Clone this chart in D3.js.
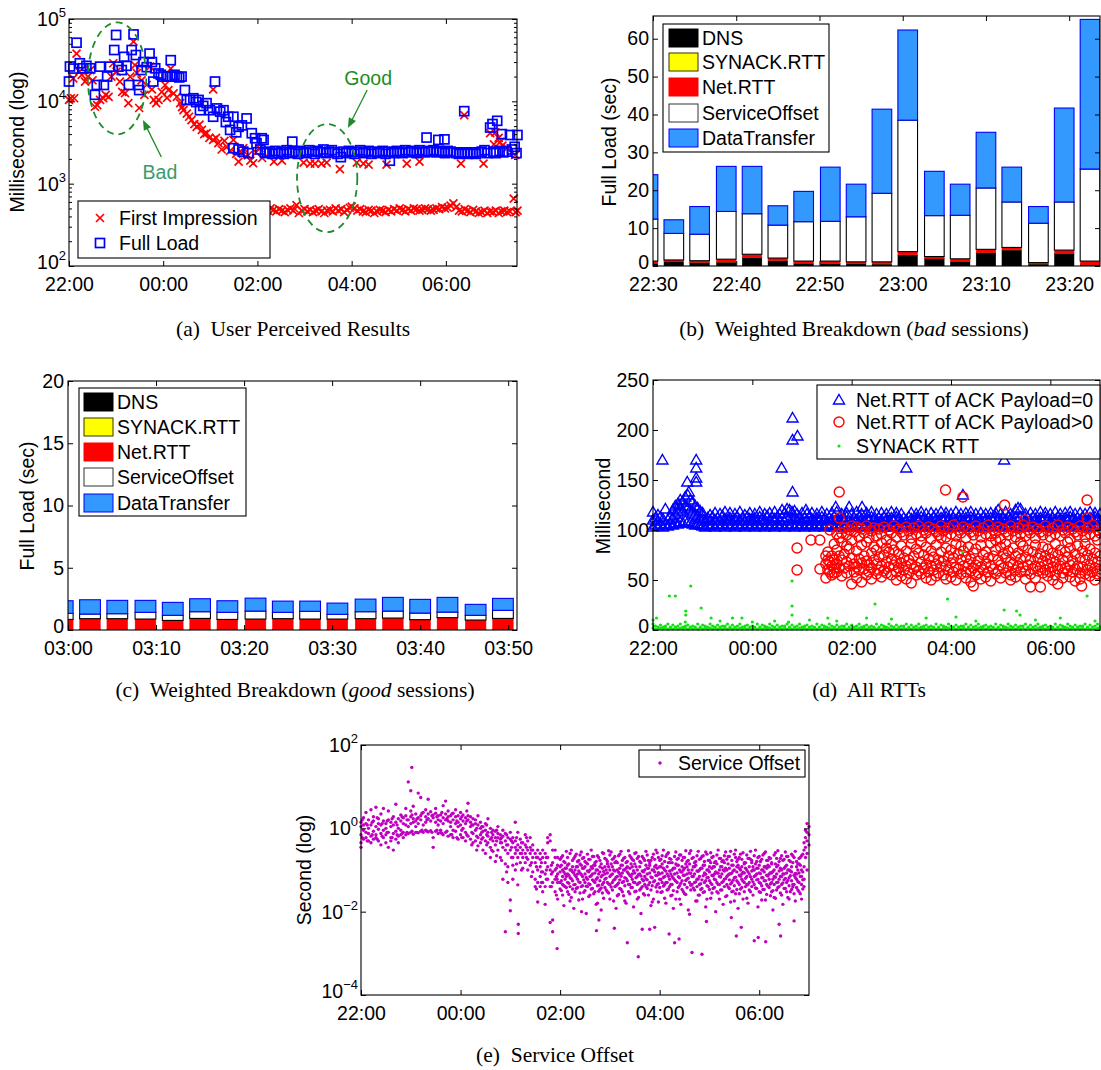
<!DOCTYPE html>
<html><head><meta charset="utf-8">
<script src="https://cdn.jsdelivr.net/npm/d3@7"></script>
<style>body{margin:0;background:#fff}</style>
</head><body>
<script>
// ================= DATA =================
// time is hours after 22:00 for panels a, d, e
const hourTicks = [0, 2, 4, 6, 8];
const hourTickLabels = ["22:00", "00:00", "02:00", "04:00", "06:00"];

// (a) User perceived results [hour, ms]
const aFirstImpression = [[0,10400],[0.04,10900],[0.09,19000],[0.11,10900],[0.16,38000],[0.22,23000],[0.27,21000],[0.34,17400],[0.4,20000],[0.45,24000],[0.5,18000],[0.55,8600],[0.6,9000],[0.66,10400],[0.73,10900],[0.78,12000],[0.84,11300],[0.9,20000],[0.94,29000],[1.01,23000],[1.08,17400],[1.13,13000],[1.19,12600],[1.26,9500],[1.3,20000],[1.37,53000],[1.4,27500],[1.44,22000],[1.49,8300],[1.54,18000],[1.6,12000],[1.65,15800],[1.72,26400],[1.76,14000],[1.8,10400],[1.85,9500],[1.9,10400],[1.97,13000],[2.04,15800],[2.08,11000],[2.11,13700],[2.16,25000],[2.22,12500],[2.29,11300],[2.36,9500],[2.4,8500],[2.43,7800],[2.5,7100],[2.55,6500],[2.6,5900],[2.66,5300],[2.71,4900],[2.77,5200],[2.82,4500],[2.87,4000],[2.92,4100],[2.98,3600],[3.06,14000],[3.06,3400],[3.12,3600],[3.17,3100],[3.24,2600],[3.3,3300],[3.35,2800],[3.42,2500],[3.49,3400],[3.55,2300],[3.6,1850],[3.65,2400],[3.7,2700],[3.8,2200],[3.85,1900],[3.91,1770],[3.97,2400],[4.04,2700],[4.1,2050],[4.35,1850],[4.52,1900],[4.98,1800],[5.12,1750],[5.22,1750],[5.36,1750],[5.47,1800],[5.75,1500],[6.11,1800],[6.25,1750],[6.36,1700],[6.74,1700],[7.17,1750],[7.44,1850],[8.32,1750],[8.39,6800],[8.8,1750],[8.94,4100],[9.02,3000],[9.05,4200],[9.12,3600],[9.15,3200],[9.2,2900],[9.3,2700],[9.47,2230],
[3.74,480],[3.8,500],[3.86,460],[3.92,490],[3.98,510],[4.04,470],[4.1,450],[4.16,490],[4.22,470],[4.28,500],[4.34,480],[4.4,460],[4.46,490],[4.52,470],[4.58,450],[4.64,480],[4.7,500],[4.76,470],[4.83,550],[4.88,440],[4.94,470],[5,490],[5.06,460],[5.12,480],[5.18,450],[5.24,470],[5.3,490],[5.36,460],[5.42,440],[5.48,470],[5.54,480],[5.6,460],[5.66,500],[5.72,470],[5.78,490],[5.84,450],[5.9,480],[5.96,510],[6,525],[6.06,500],[6.12,470],[6.18,490],[6.24,460],[6.3,450],[6.36,480],[6.42,470],[6.48,440],[6.54,460],[6.6,480],[6.66,470],[6.72,450],[6.78,480],[6.84,460],[6.9,490],[6.96,470],[7.02,500],[7.08,480],[7.14,460],[7.2,490],[7.26,470],[7.32,500],[7.38,490],[7.44,470],[7.5,480],[7.56,500],[7.62,490],[7.68,470],[7.74,480],[7.8,500],[7.86,490],[7.92,520],[7.98,500],[8.04,510],[8.1,540],[8.16,575],[8.22,520],[8.28,470],[8.34,460],[8.4,490],[8.46,470],[8.52,450],[8.58,480],[8.64,460],[8.7,440],[8.76,450],[8.82,470],[8.88,440],[8.94,460],[9,450],[9.06,470],[9.12,440],[9.18,460],[9.24,470],[9.3,450],[9.36,460],[9.44,660],[9.48,450],[9.52,470]];

const aFullLoad = [[0,17400],[0.02,26500],[0.09,25000],[0.16,51500],[0.23,29000],[0.3,25200],[0.37,27000],[0.45,25200],[0.55,12000],[0.59,15800],[0.66,26400],[0.74,15800],[0.81,20000],[0.87,26400],[0.96,42000],[1,64000],[1.05,26400],[1.12,24000],[1.17,34700],[1.22,27000],[1.27,15800],[1.33,42000],[1.37,65000],[1.42,36500],[1.47,15800],[1.49,13700],[1.54,24000],[1.58,30000],[1.65,26000],[1.71,38000],[1.76,30000],[1.79,17400],[1.83,25200],[1.9,21800],[1.95,21000],[2,20000],[2.07,20000],[2.16,31600],[2.18,20000],[2.24,21000],[2.29,20000],[2.34,19500],[2.39,20000],[2.46,13700],[2.5,10400],[2.57,10400],[2.64,10900],[2.7,9800],[2.75,10400],[2.78,7800],[2.85,8800],[2.92,9500],[2.99,7800],[3.06,6500],[3.1,17400],[3.14,8200],[3.21,7500],[3.28,7800],[3.33,5600],[3.38,6500],[3.42,4500],[3.49,6500],[3.49,2700],[3.55,4200],[3.6,4900],[3.6,2600],[3.67,5100],[3.7,2450],[3.77,6200],[3.81,2350],[3.88,4100],[3.95,3560],[3.98,3100],[4.06,2600],[4.09,3560],[4.13,3400],[4.16,2350],[4.2,2450],[4.26,2400],[4.32,2300],[4.38,2500],[4.44,2350],[4.5,2450],[4.56,2300],[4.62,2550],[4.68,2400],[4.74,3240],[4.74,2350],[4.8,2450],[4.86,2300],[4.92,2500],[4.98,2400],[5.04,2350],[5.1,2550],[5.16,2450],[5.22,2300],[5.28,2500],[5.34,2400],[5.4,2600],[5.46,2350],[5.52,2450],[5.58,2550],[5.64,2400],[5.7,2300],[5.77,2100],[5.82,2450],[5.88,2350],[5.94,2500],[6,2400],[6.06,2300],[6.12,2450],[6.18,2550],[6.24,2350],[6.3,2400],[6.36,2500],[6.42,2300],[6.48,2450],[6.54,2350],[6.6,2400],[6.66,2500],[6.72,2300],[6.78,2450],[6.81,1900],[6.84,2400],[6.9,2350],[6.96,2500],[7.02,2450],[7.08,2350],[7.14,2550],[7.2,2400],[7.26,2500],[7.32,2450],[7.38,2350],[7.44,2550],[7.5,2450],[7.56,2400],[7.59,3630],[7.62,2500],[7.68,2450],[7.74,2550],[7.8,2400],[7.84,3400],[7.86,2500],[7.92,2450],[7.97,3450],[7.98,2350],[8.04,2500],[8.1,2450],[8.16,2400],[8.22,2350],[8.28,2300],[8.34,2400],[8.39,7600],[8.4,2350],[8.46,2300],[8.52,2400],[8.58,2350],[8.64,2300],[8.7,2400],[8.76,2450],[8.82,2550],[8.88,2350],[8.94,4800],[8.99,5300],[9.01,2450],[9.06,2350],[9.09,5800],[9.14,2500],[9.19,4000],[9.22,2400],[9.29,2450],[9.36,3900],[9.4,2600],[9.46,2800],[9.5,2350],[9.52,3900]];

// (b) weighted breakdown, bad sessions (bar centre, minutes after 22:00; component seconds)
const bBarTimes = [29.4,32.5,35.6,38.8,41.9,45.0,48.1,51.3,54.4,57.5,60.6,63.8,66.9,70.0,73.1,76.3,79.4,82.5];
const bTickValues = [30,40,50,60,70,80];
const bTickLabels = ["22:30","22:40","22:50","23:00","23:10","23:20"];
const bDNS = [0.7,1.1,0.9,1.0,2.2,1.4,0.7,0.6,0.6,0.5,2.9,1.9,1.2,3.5,4.2,0.5,3.2,0.3];
const bSynack = [0.05,0.05,0.05,0.05,0.05,0.05,0.05,0.05,0.05,0.05,0.05,0.05,0.05,0.05,0.05,0.05,0.05,0.05];
const bNetRTT = [0.55,0.45,0.45,0.75,0.85,0.65,0.55,0.65,0.45,0.55,0.85,0.55,0.65,0.85,0.65,0.35,0.95,0.95];
const bServiceOffset = [11.1,7.0,7.0,12.6,10.7,8.7,10.4,10.5,11.9,18.1,34.7,10.8,11.5,16.2,12.0,10.4,12.7,24.3];
const bDataTransfer = [11.7,3.6,7.3,11.9,12.5,5.1,8.0,14.3,8.6,22.2,23.8,11.7,8.2,14.7,9.2,4.4,24.8,39.5];

// (c) weighted breakdown, good sessions (bar centre, minutes after 03:00)
const cBarTimes = [-0.6,2.5,5.6,8.8,11.9,15.0,18.1,21.3,24.4,27.5,30.6,33.8,36.9,40.0,43.1,46.3,49.4];
const cTickValues = [0,10,20,30,40,50];
const cTickLabels = ["03:00","03:10","03:20","03:30","03:40","03:50"];
const cDNS = [0.03,0.03,0.03,0.03,0.03,0.03,0.03,0.03,0.03,0.03,0.03,0.03,0.03,0.03,0.03,0.03,0.03];
const cSynack = [0.02,0.02,0.02,0.02,0.02,0.02,0.02,0.02,0.02,0.02,0.02,0.02,0.02,0.02,0.02,0.02,0.02];
const cNetRTT = [0.80,0.86,0.86,0.83,0.72,0.88,0.80,0.83,0.86,0.83,0.83,0.86,0.91,0.78,0.94,0.75,0.88];
const cServiceOffset = [0.49,0.37,0.40,0.54,0.41,0.54,0.57,0.64,0.51,0.62,0.38,0.56,0.56,0.53,0.45,0.38,0.65];
const cDataTransfer = [1.01,1.15,1.07,0.96,1.04,1.04,0.93,1.04,0.90,0.82,0.90,1.01,1.10,1.10,1.18,0.88,0.96];

const barKeys = ["DNS","SYNACK.RTT","Net.RTT","ServiceOffset","DataTransfer"];

// (d) All RTTs: columns [hour, ms, ms, ...]
const dAckZero = [[0,103,110,118],[0.05,105,112],[0.1,104,109,115],[0.15,106,113],[0.19,170],[0.2,103,111],[0.25,105,121],[0.3,104,110],[0.35,106,114],[0.4,105,112,120],[0.45,107,116,124],[0.5,106,118,126],[0.53,125],[0.55,108,121,130],[0.6,107,119,128],[0.65,109,124,133],[0.69,148],[0.7,108,122,135],[0.72,138],[0.75,107,120,130],[0.8,106,118,128],[0.85,105,116,124],[0.87,170,162,152,148],[0.9,106,114,122],[0.95,105,112,119],[1,104,111,117],[1.05,103,109],[1.1,105,112],[1.15,104,110,115],[1.2,106,113],[1.25,103,110,117],[1.3,105,112],[1.35,104,109,116],[1.4,106,114],[1.45,103,111,118],[1.5,105,110],[1.55,104,112,117],[1.6,106,109],[1.65,103,111,116],[1.7,105,113],[1.75,104,110,118],[1.8,106,112],[1.85,103,109,115],[1.9,105,113],[1.95,104,111,117],[2,106,110],[2.05,103,112,116],[2.1,105,109],[2.15,104,113,118],[2.2,106,111],[2.25,103,110,116],[2.3,105,114],[2.35,104,109,117],[2.4,106,112],[2.45,103,111,118],[2.5,105,113],[2.55,104,110,116],[2.59,162],[2.6,106,112,120],[2.65,103,109,117],[2.7,105,113,121],[2.75,104,120],[2.8,106,111,118],[2.81,212,190,138],[2.85,103,112,119],[2.9,105,110,116],[2.91,194],[2.95,104,113],[3,106,109,117],[3.05,103,112],[3.08,120],[3.1,105,110,116],[3.15,104,113],[3.2,106,111,117],[3.25,103,109],[3.3,105,112,116],[3.35,104,110],[3.4,106,113,118],[3.45,103,111],[3.5,105,109,116],[3.55,104,112],[3.6,106,110,117],[3.65,103,113],[3.68,123],[3.7,105,111,118],[3.75,104,109],[3.8,106,112,116],[3.85,103,110],[3.9,105,113,117],[3.95,104,123],[4,106,109,116],[4.05,103,112],[4.1,105,110,118],[4.15,104,113],[4.2,106,111,116],[4.21,123],[4.25,103,109],[4.3,105,112,117],[4.35,104,110],[4.4,106,113,118],[4.45,103,111],[4.5,105,109,116],[4.55,104,112],[4.6,106,110,117],[4.65,103,113],[4.7,105,111,116],[4.75,104,109],[4.8,106,112,118],[4.85,103,110],[4.9,105,113,117],[4.95,104,111],[5,106,109,116],[5.05,103,112],[5.1,105,110,162],[5.15,104,113],[5.2,106,111,117],[5.25,103,109],[5.3,105,112,116],[5.35,104,110],[5.4,106,113,118],[5.45,103,111],[5.5,105,109,116],[5.55,104,112],[5.6,106,110,117],[5.65,103,113],[5.7,105,111,116],[5.75,104,109],[5.8,106,112,118],[5.85,103,110],[5.9,105,113,117],[5.95,104,111],[6,106,109,116],[6.05,103,112],[6.1,105,110,118],[6.15,104,113],[6.2,106,111,116],[6.24,135],[6.25,103,109],[6.3,105,112,117],[6.35,104,110],[6.4,106,113,118],[6.45,103,111],[6.5,105,109,116],[6.55,104,112],[6.6,106,110,117],[6.65,103,113],[6.7,105,111,116],[6.75,104,109],[6.8,106,112,117],[6.85,103,110],[6.9,105,113,117],[6.95,104,111,120],[7,106,109,116],[7.05,103,112],[7.07,170],[7.1,105,110,118],[7.15,104,113],[7.2,106,111,116],[7.25,103,109],[7.3,105,112,120],[7.35,104,110,122],[7.4,106,113,121],[7.45,103,111],[7.5,105,109,116],[7.55,104,112],[7.6,106,110,117],[7.65,103,113],[7.7,105,111,116],[7.75,104,109],[7.8,106,112,118],[7.85,103,110],[7.9,105,113,117],[7.95,104,111],[8,106,109,116],[8.05,103,112],[8.1,105,110,118],[8.15,104,113],[8.2,106,111,116],[8.25,103,109],[8.3,105,112,117],[8.35,104,110],[8.4,106,113,118],[8.45,103,111],[8.5,105,109,116],[8.55,104,112],[8.6,106,110,117],[8.65,103,113],[8.7,105,111,116],[8.75,104,109],[8.8,106,112,118],[8.85,103,110],[8.9,105,113,117],[8.95,104,111],[9,106,109,116]];

const dAckPayload = [[2.9,82,60],[3.18,90],[3.36,90,61],[3.48,52,66,74],[3.52,60,70,78],[3.56,100,58,68],[3.6,64,74,55],[3.65,86,62,70,57],[3.7,80,66,58,96],[3.75,138,112,62,74,92],[3.8,88,54,70,97],[3.85,102,76,62],[3.9,95,68,57,84],[3.95,100,81,64],[4,46,72,90,104],[4.05,98,66,58],[4.1,103,79,63,52],[4.15,93,71,60],[4.2,48,85,67,101],[4.25,97,74,61],[4.3,104,88,69,55],[4.35,92,65,58],[4.4,99,77,62,51],[4.45,102,83,70],[4.5,94,66,56,80],[4.55,101,73,60],[4.6,96,87,64,53],[4.65,103,75,59],[4.7,90,68,57,82],[4.75,100,78,63],[4.8,97,71,55,86],[4.85,104,80,65],[4.9,93,69,58,50],[4.95,101,76,62],[5,98,84,67,54],[5.05,95,72,60],[5.1,103,79,64,51],[5.15,99,70,57],[5.2,92,86,66,47],[5.25,102,74,61],[5.3,96,81,63,55],[5.35,104,77,59],[5.4,94,68,56,88],[5.45,100,75,62],[5.5,97,83,65,52],[5.55,103,71,58],[5.6,91,79,64,50],[5.65,101,73,60],[5.7,98,85,66,54],[5.75,95,70,57],[5.8,104,78,63,92],[5.85,99,69,55],[5.89,140],[5.9,93,82,64,51],[5.95,102,74,60],[6,96,80,67,53],[6.05,105,72,58],[6.1,94,86,63,50],[6.15,100,76,61],[6.2,97,70,56,84],[6.24,133],[6.25,103,79,64],[6.3,92,73,58,52],[6.35,101,83,66],[6.4,98,71,59,48],[6.45,44,95,77,62],[6.5,104,81,65,55],[6.55,99,69,57],[6.6,93,85,63,51],[6.65,102,75,60],[6.7,96,78,66,53],[6.75,105,72,58],[6.8,94,87,64,49],[6.85,100,74,61],[6.9,97,80,56,90],[6.95,103,70,59],[7,91,83,65,52],[7.05,101,76,62],[7.08,125],[7.1,98,72,57,86],[7.15,95,79,63],[7.2,104,68,55,50],[7.25,99,82,66],[7.3,93,74,60,53],[7.35,102,77,64],[7.4,96,71,58,88],[7.45,105,84,63],[7.48,110],[7.5,94,73,59,51],[7.55,100,80,65],[7.6,97,70,56,43],[7.65,103,78,61],[7.7,92,85,64,52],[7.75,101,72,59],[7.8,43,98,76,63],[7.85,95,69,57,83],[7.9,104,74,60],[7.95,99,81,66,54],[8,93,71,58],[8.05,102,77,63,50],[8.1,96,68,55,86],[8.15,46,105,75,61],[8.2,94,80,64],[8.25,100,70,57,52],[8.3,97,78,62],[8.35,103,73,59,88],[8.4,91,82,65,53],[8.45,101,69,58],[8.5,98,76,61,49],[8.55,95,84,64],[8.6,104,72,57,51],[8.63,44],[8.65,99,79,63],[8.7,93,70,56,86],[8.74,130,112],[8.75,102,75,60],[8.8,96,81,65,54],[8.85,105,71,58],[8.9,94,77,62,50],[8.95,100,68,56,90],[9,97,74,61]];

const dSynack = [[0,2,6,10],[0.05,1,4],[0.07,12],[0.1,3,1],[0.15,2,5],[0.2,1,3],[0.25,4,2],[0.3,1,6],[0.33,34],[0.35,2,3],[0.4,1,5],[0.45,3,2,34],[0.5,1,4],[0.55,2,6],[0.6,1,3],[0.65,4,2,8],[0.66,19,15],[0.7,1,5],[0.75,2,3],[0.76,44],[0.8,1,4],[0.85,3,2],[0.9,1,6],[0.95,2,3],[0.97,22],[1,1,5],[1.05,4,2],[1.1,1,3],[1.15,2,6],[1.17,12],[1.2,1,4],[1.25,3,2],[1.3,1,5],[1.35,2,3,9],[1.4,1,4],[1.45,4,2],[1.5,1,6],[1.55,2,3],[1.6,1,5,12],[1.65,3,2],[1.7,1,4],[1.75,2,6],[1.79,12],[1.8,1,3],[1.85,4,2],[1.9,1,5],[1.95,2,3],[2,1,4,8],[2.05,3,2],[2.1,1,6],[2.15,2,3],[2.2,1,5],[2.25,4,2],[2.3,1,3],[2.35,2,6],[2.4,1,4],[2.45,3,2,9],[2.5,1,5],[2.55,2,3],[2.6,1,4],[2.65,4,2],[2.7,1,6],[2.73,8],[2.75,2,3],[2.8,1,5,49,24,15],[2.85,3,2],[2.9,1,4],[2.95,2,6],[3,1,3],[3.05,4,2],[3.1,1,5],[3.15,2,3,10],[3.2,1,4],[3.25,3,2],[3.3,1,6],[3.35,2,3],[3.4,1,5],[3.45,4,2],[3.5,1,3],[3.52,12],[3.55,2,6],[3.6,1,4],[3.65,3,2],[3.7,1,5,9],[3.75,2,3],[3.8,1,4],[3.85,4,2],[3.9,1,6],[3.95,2,3],[4,1,5],[4.05,3,2],[4.1,1,4],[4.15,2,6],[4.2,1,3],[4.25,4,2],[4.3,1,5,12],[4.35,2,3],[4.4,1,4],[4.45,3,2],[4.47,26],[4.5,1,6],[4.55,2,3],[4.6,1,5],[4.65,4,2],[4.7,1,3],[4.75,2,6],[4.8,1,4,11],[4.85,3,2],[4.9,1,5],[4.95,2,3],[5,1,4],[5.05,4,2],[5.1,1,6],[5.15,2,3],[5.2,1,5],[5.25,3,2],[5.3,1,4],[5.35,2,6],[5.4,1,3],[5.45,4,2],[5.5,1,5,12],[5.55,2,3],[5.6,1,4],[5.65,3,2],[5.7,1,6],[5.75,2,3],[5.8,1,5],[5.85,4,2],[5.9,1,3],[5.93,31],[5.95,2,6],[6,1,4],[6.05,3,2],[6.1,1,5,13],[6.15,2,3],[6.2,1,4],[6.24,78],[6.25,4,2],[6.3,1,6],[6.35,2,3],[6.4,1,5],[6.45,3,2],[6.5,1,4,9],[6.55,2,6],[6.6,1,3],[6.65,4,2],[6.7,1,5],[6.75,2,3],[6.8,1,4],[6.85,3,2],[6.9,1,6],[6.95,2,3],[7,1,5],[7.05,4,2],[7.07,20],[7.1,1,3],[7.15,2,6],[7.2,1,4],[7.25,3,2],[7.3,1,5],[7.32,19],[7.35,2,3],[7.39,15],[7.4,1,4],[7.45,4,2],[7.5,1,6],[7.55,2,3],[7.6,1,5],[7.65,3,2],[7.7,1,4,10],[7.75,2,6],[7.8,1,3],[7.85,4,2],[7.9,1,5],[7.95,2,3],[8,1,4],[8.05,3,2],[8.1,1,6],[8.15,2,3],[8.2,1,5,12],[8.25,4,2],[8.3,1,3],[8.35,2,6],[8.4,1,4],[8.45,3,2],[8.5,1,5],[8.55,2,3],[8.6,1,4],[8.65,4,2],[8.7,1,6],[8.74,34],[8.75,2,3],[8.8,1,5],[8.85,3,2],[8.9,1,4,9],[8.95,2,6],[9,1,3]];

// (e) Service offset: columns [hour, seconds, seconds, ...]
const eServiceOffset = [[0,1.4,0.7,0.45,1.1,0.35],[0.05,1.8,0.9,0.55,1.2],[0.1,1.3,0.6,2.4,0.8],[0.15,1.6,0.5,1.0,0.75],[0.2,2.8,1.2,0.65,0.45],[0.25,1.5,0.85,0.55,1.9],[0.3,1.1,0.6,3.2,0.7],[0.35,1.7,0.5,0.95,1.3],[0.4,1.2,0.75,0.4,2.2],[0.45,3.0,1.5,0.6,0.9],[0.5,1.3,0.45,0.7,1.0],[0.55,1.6,0.35,0.8,2.6],[0.6,1.1,0.6,0.5,1.4],[0.65,1.9,0.75,0.3,1.2],[0.7,1.4,0.55,0.85,3.8],[0.75,1.7,0.65,1.0,0.45],[0.8,1.5,0.7,2.1,0.9],[0.85,1.3,0.6,1.8,0.8],[0.9,2.0,0.7,1.2,3.0],[0.95,1.6,0.75,13,1.1],[1,1.9,0.8,8,1.3,2.6],[1.02,29],[1.05,1.7,0.72,1.4,3.4],[1.1,2.2,0.8,1.5,1.1],[1.15,1.8,0.78,7,1.3],[1.2,2.0,0.85,1.6,5.5],[1.25,2.4,0.8,1.2],[1.3,1.9,0.9,2.8,1.4],[1.35,2.2,0.82,1.7,5.0],[1.4,2.5,0.88,1.5],[1.45,1.8,0.6,2.1,0.35],[1.5,2.3,0.85,1.4,3.0],[1.55,1.6,0.75,2.0,1.2],[1.6,2.1,0.9,1.5,0.8],[1.65,1.8,0.7,3.5,1.3],[1.7,2.2,0.8,1.6,4.5],[1.75,1.5,0.65,1.9,2.6],[1.8,2.0,1.1,0.7,1.4],[1.85,1.6,0.6,2.3,0.9],[1.9,1.9,0.85,1.3,2.8],[1.95,1.4,0.55,2.0,1.1],[2,1.7,0.7,1.2,2.4],[2.05,1.5,0.6,2.1,1.0],[2.1,1.8,0.5,1.3,0.8],[2.15,1.6,0.65,2.0,4.0],[2.2,1.4,0.55,1.1,1.9],[2.25,1.7,0.45,1.2,0.75],[2.3,1.3,0.5,0.9,1.6],[2.35,1.2,0.6,0.38,2.0],[2.4,1.0,0.45,0.7,1.4],[2.45,1.1,0.3,0.6,0.85],[2.5,0.9,0.5,0.25,1.3],[2.55,0.8,0.45,0.65,1.7],[2.6,1.0,0.35,0.55,0.2],[2.65,0.7,0.5,0.9,0.28],[2.7,0.85,0.4,0.6,0.16],[2.75,0.6,0.3,0.75,1.1],[2.8,0.7,0.45,0.2,0.55],[2.85,0.65,0.35,0.06,0.9],[2.9,0.5,0.3,0.0033,0.75,0.14],[2.95,0.6,0.25,0.4,0.12,0.05],[3,0.55,0.3,0.019,0.0105,0.8],[3.05,0.45,0.2,0.6,0.06,0.13],[3.1,0.5,0.35,0.25,1.4,0.1],[3.15,0.4,0.3,0.2,0.044,0.8],[3.16,0.005,0.003],[3.2,0.35,0.55,0.15,0.25],[3.25,0.3,0.2,0.45,0.11],[3.3,0.4,0.25,0.15,0.7],[3.35,0.3,0.5,0.18,0.1],[3.4,0.25,0.35,0.13,0.6],[3.45,0.2,0.3,0.4,0.09],[3.5,0.15,0.06,0.25,0.04],[3.55,0.1,0.2,0.05,0.017,0.3],[3.6,0.12,0.04,0.25,0.07,0.18],[3.65,0.2,0.05,0.09,0.3,0.03],[3.7,0.15,0.04,0.08,0.015,0.25],[3.75,0.6,0.45,0.12,0.06,0.2],[3.8,0.7,0.5,0.1,0.04,0.0055],[3.85,0.3,0.05,0.09,0.0033,0.0063,0.15],[3.9,0.2,0.3,0.06,0.1,0.03],[3.94,0.0013,0.06],[3.95,0.08,0.13,0.05,0.2,0.02],[4,0.18,0.09,0.05,0.035,0.12],[4.05,0.22,0.07,0.045,0.1,0.025],[4.1,0.15,0.11,0.06,0.04,0.08],[4.15,0.2,0.08,0.05,0.03,0.13],[4.2,0.25,0.1,0.065,0.04,0.018],[4.25,0.17,0.09,0.055,0.035,0.12],[4.3,0.21,0.075,0.045,0.1,0.03],[4.35,0.16,0.12,0.06,0.038,0.08],[4.4,0.23,0.085,0.05,0.028,0.14],[4.43,0.01],[4.45,0.19,0.11,0.07,0.042,0.02],[4.5,0.16,0.08,0.05,0.032,0.12],[4.55,0.24,0.095,0.06,0.04,0.14],[4.6,0.18,0.07,0.045,0.1,0.025],[4.65,0.21,0.11,0.058,0.036,0.08],[4.7,0.15,0.085,0.05,0.03,0.13],[4.73,0.0035],[4.75,0.22,0.1,0.065,0.042,0.016],[4.78,0.0063],[4.8,0.17,0.09,0.055,0.034,0.12],[4.85,0.26,0.075,0.045,0.11,0.028],[4.9,0.19,0.12,0.06,0.038,0.08],[4.95,0.16,0.085,0.05,0.03,0.14],[5,0.23,0.1,0.07,0.045,0.02],[5.05,0.18,0.08,0.05,0.033,0.12],[5.09,0.004],[5.1,0.21,0.095,0.06,0.04,0.15],[5.15,0.15,0.07,0.045,0.1,0.024],[5.2,0.24,0.11,0.058,0.036,0.08],[5.25,0.17,0.085,0.05,0.03,0.13],[5.3,0.2,0.1,0.065,0.042,0.018],[5.35,0.16,0.09,0.055,0.0018,0.12],[5.4,0.22,0.075,0.045,0.11,0.027],[5.45,0.18,0.12,0.06,0.038,0.08],[5.5,0.25,0.085,0.05,0.03,0.14],[5.55,0.19,0.1,0.07,0.045,0.02],[5.57,0.00083],[5.6,0.16,0.08,0.05,0.033,0.12],[5.65,0.21,0.095,0.06,0.04,0.0038],[5.7,0.17,0.07,0.045,0.1,0.025],[5.75,0.23,0.11,0.058,0.036,0.08],[5.8,0.15,0.085,0.05,0.0038,0.13],[5.85,0.2,0.1,0.065,0.042,0.017],[5.9,0.18,0.09,0.055,0.0042,0.12],[5.95,0.26,0.075,0.045,0.11,0.03],[6,0.17,0.12,0.06,0.038,0.08],[6.05,0.22,0.085,0.05,0.03,0.14],[6.1,0.16,0.1,0.07,0.045,0.021],[6.15,0.24,0.08,0.05,0.033,0.12],[6.19,0.0029],[6.2,0.19,0.095,0.06,0.04,0.15],[6.25,0.15,0.07,0.045,0.1,0.025],[6.3,0.21,0.11,0.058,0.0018,0.08],[6.35,0.18,0.085,0.05,0.03,0.13],[6.39,0.0022],[6.4,0.23,0.1,0.065,0.042,0.02],[6.45,0.17,0.09,0.055,0.034,0.12],[6.5,0.2,0.075,0.045,0.11,0.027],[6.55,0.16,0.12,0.06,0.038,0.08],[6.6,0.25,0.085,0.05,0.0087,0.14],[6.65,0.19,0.1,0.07,0.045,0.00105],[6.7,0.15,0.08,0.05,0.033,0.12],[6.75,0.22,0.095,0.06,0.04,0.018],[6.8,0.18,0.07,0.045,0.1,0.025],[6.85,0.21,0.11,0.058,0.036,0.00095],[6.9,0.16,0.085,0.05,0.03,0.13],[6.94,0.0058],[6.95,0.24,0.1,0.065,0.042,0.02],[7,0.17,0.09,0.055,0.034,0.12],[7.05,0.2,0.075,0.045,0.11,0.028],[7.1,0.15,0.12,0.06,0.038,0.08],[7.15,0.23,0.085,0.05,0.03,0.14],[7.2,0.19,0.1,0.07,0.045,0.02],[7.25,0.16,0.08,0.05,0.033,0.12],[7.3,0.22,0.095,0.06,0.04,0.15],[7.35,0.18,0.07,0.045,0.1,0.024],[7.4,0.21,0.11,0.058,0.036,0.08],[7.44,0.0072],[7.45,0.17,0.085,0.05,0.03,0.13],[7.5,0.24,0.1,0.065,0.042,0.018],[7.54,0.0026],[7.55,0.16,0.09,0.055,0.034,0.12],[7.6,0.2,0.075,0.045,0.11,0.027],[7.64,0.0042],[7.65,0.18,0.12,0.06,0.038,0.08],[7.7,0.15,0.085,0.05,0.03,0.14],[7.75,0.23,0.1,0.07,0.045,0.021],[7.8,0.19,0.08,0.05,0.033,0.12],[7.85,0.17,0.095,0.06,0.04,0.15],[7.9,0.22,0.07,0.045,0.1,0.002],[7.95,0.16,0.11,0.058,0.036,0.08],[7.98,0.0024],[8,0.21,0.085,0.05,0.03,0.13],[8.05,0.18,0.1,0.065,0.042,0.019],[8.1,0.25,0.09,0.055,0.034,0.12],[8.13,0.0019],[8.15,0.17,0.075,0.045,0.11,0.026],[8.2,0.2,0.12,0.06,0.038,0.08],[8.25,0.15,0.085,0.05,0.03,0.14],[8.3,0.23,0.1,0.07,0.045,0.022],[8.35,0.19,0.08,0.05,0.033,0.12],[8.4,0.16,0.095,0.06,0.04,0.005],[8.43,0.0026],[8.45,0.22,0.07,0.045,0.1,0.025],[8.5,0.18,0.11,0.058,0.036,0.08],[8.55,0.21,0.085,0.05,0.03,0.13],[8.6,0.17,0.1,0.065,0.042,0.02],[8.65,0.24,0.09,0.055,0.034,0.12],[8.7,0.2,0.075,0.045,0.006,0.027],[8.75,0.16,0.12,0.06,0.038,0.08],[8.8,0.19,0.085,0.05,0.03,0.14],[8.85,0.22,0.1,0.07,0.045,0.02],[8.9,0.45,0.3,0.12,0.06,0.04],[8.93,0.9,0.6,0.35,0.2],[8.96,1.3,0.8,0.5,0.25,0.1],[9,1.1,0.7,0.4]];
// further Service offset samples of the same series (between the columns above)
const eServiceOffset2 = [[0.025,1.6,0.6],[0.125,1.2,0.5],[0.225,1.4,0.7],[0.325,1.8,0.55],[0.425,1.3,0.65],[0.525,1.5,0.8],[0.625,1.7,0.6],[0.725,1.2,0.7],[0.825,1.9,0.75],[0.925,1.6,0.8],[1.025,2.1,0.85],[1.125,1.7,0.8],[1.225,2.3,0.9],[1.325,1.6,0.85],[1.425,2.0,0.8],[1.525,1.9,0.9],[1.625,2.4,0.75],[1.725,1.7,0.85],[1.825,2.2,0.7],[1.925,1.5,0.6],[2.025,1.9,0.9,0.6],[2.125,1.5,0.7,2.6],[2.225,1.2,0.8,0.4],[2.325,1.0,0.65,0.3],[2.425,0.8,0.55,1.1],[2.525,0.7,0.4,1.2],[2.625,0.6,0.8,0.3],[2.725,0.5,0.9,0.22],[2.825,0.45,0.6,0.17],[2.925,0.4,0.7,0.09],[3.025,0.35,0.5,0.2],[3.125,0.3,0.6,0.14],[3.225,0.25,0.45,0.1],[3.325,0.2,0.35,0.6],[3.425,0.15,0.3,0.07],[3.525,0.12,0.2,0.035],[3.625,0.09,0.15,0.05],[3.725,0.1,0.06,0.2],[3.825,0.08,0.04,0.13],[3.925,0.07,0.11,0.025],
[4.025,0.13,0.055,0.032,0.2],[4.075,0.09,0.042,0.16,0.014],[4.125,0.28,0.07,0.038,0.11],[4.175,0.14,0.048,0.026,0.075],[4.225,0.1,0.062,0.3,0.022],[4.275,0.19,0.044,0.085,0.012],[4.325,0.12,0.068,0.036,0.24],[4.375,0.095,0.052,0.17,0.019],[4.425,0.27,0.078,0.04,0.13],[4.475,0.11,0.058,0.029,0.2],[4.525,0.15,0.066,0.041,0.009],[4.575,0.09,0.047,0.18,0.023],[4.625,0.3,0.073,0.035,0.12],[4.675,0.13,0.054,0.027,0.21],[4.725,0.1,0.06,0.16,0.015],[4.775,0.2,0.043,0.08,0.031],[4.825,0.14,0.069,0.037,0.011],[4.875,0.092,0.05,0.25,0.021],[4.925,0.18,0.064,0.033,0.1],[4.975,0.12,0.046,0.028,0.29],[5.025,0.27,0.076,0.039,0.14],[5.075,0.1,0.057,0.018,0.19],[5.125,0.16,0.067,0.042,0.012],[5.175,0.088,0.049,0.22,0.026],[5.225,0.13,0.071,0.034,0.28],[5.275,0.19,0.053,0.024,0.1],[5.325,0.11,0.063,0.15,0.016],[5.375,0.29,0.045,0.082,0.03],[5.425,0.14,0.07,0.038,0.2],[5.475,0.096,0.051,0.013,0.17],[5.525,0.12,0.065,0.031,0.26],[5.575,0.21,0.048,0.078,0.022],[5.625,0.15,0.072,0.036,0.009],[5.675,0.09,0.055,0.19,0.027],[5.725,0.28,0.061,0.04,0.13],[5.775,0.11,0.044,0.025,0.17],[5.825,0.17,0.068,0.033,0.014],[5.875,0.1,0.052,0.24,0.02],[5.925,0.13,0.074,0.039,0.3],[5.975,0.2,0.047,0.086,0.017],[6.025,0.12,0.059,0.029,0.18],[6.075,0.3,0.066,0.041,0.11],[6.125,0.094,0.05,0.016,0.21],[6.175,0.15,0.071,0.035,0.26],[6.225,0.18,0.045,0.08,0.024],[6.275,0.11,0.063,0.032,0.012],[6.325,0.27,0.054,0.14,0.02],[6.375,0.13,0.069,0.038,0.19],[6.425,0.09,0.048,0.23,0.015],[6.475,0.2,0.075,0.03,0.1],[6.525,0.14,0.056,0.026,0.29],[6.575,0.1,0.064,0.17,0.011],[6.625,0.29,0.043,0.083,0.033],[6.675,0.12,0.07,0.037,0.2],[6.725,0.16,0.052,0.018,0.13],[6.775,0.093,0.061,0.28,0.025],[6.825,0.19,0.047,0.034,0.11],[6.875,0.13,0.073,0.029,0.22],[6.925,0.27,0.055,0.079,0.013],[6.975,0.1,0.066,0.04,0.17],[7.025,0.15,0.049,0.021,0.26],[7.075,0.21,0.072,0.036,0.12],[7.125,0.09,0.058,0.16,0.01],[7.175,0.3,0.045,0.084,0.028],[7.225,0.12,0.068,0.033,0.19],[7.275,0.17,0.053,0.015,0.1],[7.325,0.11,0.062,0.27,0.023],[7.375,0.14,0.076,0.039,0.21],[7.425,0.28,0.046,0.081,0.017],[7.475,0.095,0.057,0.031,0.13],[7.525,0.2,0.067,0.027,0.3],[7.575,0.13,0.05,0.18,0.012],[7.625,0.1,0.071,0.035,0.24],[7.675,0.26,0.054,0.088,0.02],[7.725,0.15,0.063,0.04,0.11],[7.775,0.09,0.044,0.19,0.016],[7.825,0.18,0.069,0.03,0.28],[7.875,0.12,0.052,0.025,0.1],[7.925,0.3,0.074,0.037,0.14],[7.975,0.11,0.059,0.013,0.2],[8.025,0.16,0.048,0.082,0.029],[8.075,0.1,0.065,0.034,0.23],[8.125,0.27,0.055,0.019,0.12],[8.175,0.13,0.072,0.041,0.17],[8.225,0.19,0.046,0.086,0.024],[8.275,0.092,0.06,0.032,0.011],[8.325,0.14,0.067,0.26,0.021],[8.375,0.29,0.051,0.038,0.13],[8.425,0.11,0.07,0.028,0.19],[8.475,0.17,0.049,0.08,0.015],[8.525,0.12,0.063,0.036,0.27],[8.575,0.21,0.056,0.022,0.1],[8.625,0.095,0.073,0.16,0.03],[8.675,0.15,0.045,0.039,0.22],[8.725,0.28,0.066,0.083,0.018],[8.775,0.1,0.053,0.033,0.14],[8.825,0.13,0.07,0.027,0.2],[8.875,0.24,0.058,0.09,0.035]];

// ================= DRAWING =================
const SANS = "'Liberation Sans', Arial, Helvetica, sans-serif";
const SERIF = "'Liberation Serif', 'Times New Roman', serif";
const FS = 19.5;
const svg = d3.select("body").append("svg").attr("width", 1101).attr("height", 1070)
  .attr("font-family", SANS);
const defs = svg.append("defs");
const flat = cols => cols.flatMap(c => c.slice(1).map(v => [c[0], v]));

function styleAxis(sel) {
  sel.select(".domain").remove();
  sel.selectAll("line").attr("stroke", "#000").attr("stroke-width", 1);
  sel.selectAll("text").attr("font-size", FS).attr("fill", "#000").attr("font-family", SANS);
}
function boxAxes(x, y, o) {
  const [x0, x1] = x.range(), [y1, y0] = y.range();
  const yMin = y.domain()[0];
  const g = svg.append("g");
  g.append("g").attr("transform", `translate(0,${y1})`)
    .call(d3.axisBottom(x).tickValues(o.xv).tickFormat((d, i) => o.xl[i]).tickSizeInner(-5).tickSizeOuter(0).tickPadding(11)).call(styleAxis);
  g.append("g").attr("transform", `translate(0,${y0})`)
    .call(d3.axisTop(x).tickValues(o.xv).tickFormat("").tickSizeInner(-5).tickSizeOuter(0)).call(styleAxis);
  const left = g.append("g").attr("transform", `translate(${x0},0)`)
    .call(d3.axisLeft(y).tickValues(o.yv).tickFormat(o.yfmt || (() => "")).tickSizeInner(-5).tickSizeOuter(0).tickPadding(4)).call(styleAxis);
  // lift the lowest y label a little so it clears the first time label (as in the original figure)
  left.selectAll(".tick").filter(d => d === yMin).select("text").attr("y", -4);
  g.append("g").attr("transform", `translate(${x1},0)`)
    .call(d3.axisRight(y).tickValues(o.yv).tickFormat("").tickSizeInner(-5).tickSizeOuter(0)).call(styleAxis);
  if (o.minor) {
    g.append("g").attr("transform", `translate(${x0},0)`)
      .call(d3.axisLeft(y).tickValues(o.minor).tickFormat("").tickSizeInner(-3).tickSizeOuter(0)).call(styleAxis);
    g.append("g").attr("transform", `translate(${x1},0)`)
      .call(d3.axisRight(y).tickValues(o.minor).tickFormat("").tickSizeInner(-3).tickSizeOuter(0)).call(styleAxis);
  }
  g.append("rect").attr("x", x0).attr("y", y0).attr("width", x1 - x0).attr("height", y1 - y0)
    .attr("fill", "none").attr("stroke", "#000").attr("stroke-width", 1.1);
  if (o.exps) {
    o.exps.forEach((e, i) => {
      const t = g.append("text").attr("x", x0 - 3).attr("y", y(Math.pow(10, e)) - (i === 0 ? 4 : 0)).attr("dy", "0.36em")
        .attr("text-anchor", "end").attr("font-size", FS);
      t.append("tspan").text("10");
      t.append("tspan").attr("dy", -9).attr("font-size", 13).text(e < 0 ? "\u2212" + (-e) : String(e));
    });
  }
  if (o.ylabel) {
    g.append("text").attr("transform", `translate(${o.ylx},${o.yly}) rotate(-90)`)
      .attr("text-anchor", "middle").attr("font-size", FS).text(o.ylabel);
  }
}
function caption(cx, cy, parts) {
  const t = svg.append("text").attr("x", cx).attr("y", cy).attr("text-anchor", "middle")
    .attr("font-family", SERIF).attr("font-size", 21.5).style("white-space", "pre");
  parts.forEach(p => t.append("tspan").attr("font-style", p[1] ? "italic" : "normal").text(p[0]));
}
function clipRect(id, x, y) {
  const [x0, x1] = x.range(), [y1, y0] = y.range();
  defs.append("clipPath").attr("id", id).append("rect").attr("x", x0).attr("y", y0).attr("width", x1 - x0).attr("height", y1 - y0);
}
function minorLog(lo, hi) {
  const out = [];
  for (let e = lo; e < hi; e++) for (let m = 2; m <= 9; m++) out.push(m * Math.pow(10, e));
  return out;
}
const X_PATH = "M-4,-4L4,4M-4,4L4,-4";
const TRI_PATH = "M0,-5.5L5.5,4L-5.5,4Z";

// ---------- (a) ----------
const xA = d3.scaleLinear().domain([0, 9.51]).range([69, 517]);
const yA = d3.scaleLog().domain([100, 1e5]).range([266, 19]);
svg.append("g").selectAll("path").data(aFirstImpression).join("path").attr("d", X_PATH)
  .attr("transform", d => `translate(${xA(d[0])},${yA(d[1])})`).attr("stroke", "#ff0000").attr("stroke-width", 1.7).attr("fill", "none");
svg.append("g").selectAll("rect").data(aFullLoad).join("rect")
  .attr("x", d => xA(d[0]) - 4.5).attr("y", d => yA(d[1]) - 4.5).attr("width", 9).attr("height", 9)
  .attr("fill", "none").attr("stroke", "#0000ff").attr("stroke-width", 1.7);
boxAxes(xA, yA, { xv: hourTicks, xl: hourTickLabels, yv: [100, 1000, 1e4, 1e5], minor: minorLog(2, 5), exps: [2, 3, 4, 5],
  ylabel: "Millisecond (log)", ylx: 24, yly: 142 });
// annotations (data coordinates)
const GREEN = "#1f8a2a";
function ell(h, ms, rh, dec) {
  const cx = xA(h), cy = yA(ms);
  svg.append("ellipse").attr("cx", cx).attr("cy", cy).attr("rx", xA(h + rh) - cx).attr("ry", cy - yA(ms * Math.pow(10, dec)))
    .attr("fill", "none").attr("stroke", GREEN).attr("stroke-width", 1.8).attr("stroke-dasharray", "7,5");
}
function arrow(h1, m1, h2, m2, col) {
  const x1 = xA(h1), y1 = yA(m1), x2 = xA(h2), y2 = yA(m2);
  const a = Math.atan2(y2 - y1, x2 - x1), L = 10, w = 4;
  svg.append("line").attr("x1", x1).attr("y1", y1).attr("x2", x2 - Math.cos(a) * 6).attr("y2", y2 - Math.sin(a) * 6)
    .attr("stroke", col).attr("stroke-width", 1.3);
  const bx = x2 - Math.cos(a) * L, by = y2 - Math.sin(a) * L;
  svg.append("path").attr("d", `M${x2},${y2}L${bx - Math.sin(a) * w},${by + Math.cos(a) * w}L${bx + Math.sin(a) * w},${by - Math.cos(a) * w}Z`)
    .attr("fill", col);
}
ell(1.02, 19000, 0.62, 0.68);
ell(5.48, 1170, 0.64, 0.656);
arrow(1.96, 2110, 1.57, 5930, GREEN);
arrow(6.33, 13700, 5.92, 4740, GREEN);
svg.append("text").attr("x", xA(1.93)).attr("y", yA(1390)).attr("dy", "0.36em").attr("text-anchor", "middle")
  .attr("font-size", FS).attr("fill", "#3a9a6c").text("Bad");
svg.append("text").attr("x", xA(6.35)).attr("y", yA(19200)).attr("dy", "0.36em").attr("text-anchor", "middle")
  .attr("font-size", FS).attr("fill", "#1e8c22").text("Good");
// legend (a)
{
  const g = svg.append("g");
  g.append("rect").attr("x", 78).attr("y", 201).attr("width", 192).attr("height", 57).attr("fill", "#fff").attr("stroke", "#000").attr("stroke-width", 1.1);
  g.append("path").attr("d", X_PATH).attr("transform", "translate(100,218)").attr("stroke", "#ff0000").attr("stroke-width", 1.7).attr("fill", "none");
  g.append("rect").attr("x", 95.5).attr("y", 238.5).attr("width", 9).attr("height", 9).attr("fill", "none").attr("stroke", "#0000ff").attr("stroke-width", 1.7);
  g.append("text").attr("x", 119).attr("y", 225).attr("font-size", FS).text("First Impression");
  g.append("text").attr("x", 119).attr("y", 250).attr("font-size", FS).text("Full Load");
}
caption(293, 336, [["(a)  User Perceived Results", false]]);

// ---------- bar panels ----------
const barFill = ["#000000", "#ffff00", "#ff0000", "#ffffff", "#3399ff"];
const barStroke = ["#000000", "#333300", "#ff0000", "#000000", "#0000ff"];
const BAR_W = 2.36;
function barPanel(x, y, times, comps, clipId) {
  clipRect(clipId, x, y);
  const rows = times.map((t, i) => { const r = { t }; barKeys.forEach((k, j) => r[k] = comps[j][i]); return r; });
  const series = d3.stack().keys(barKeys)(rows);
  const g = svg.append("g").attr("clip-path", `url(#${clipId})`);
  series.forEach((s, j) => {
    g.append("g").selectAll("rect").data(s).join("rect")
      .attr("x", d => x(d.data.t - BAR_W / 2)).attr("width", d => x(d.data.t + BAR_W / 2) - x(d.data.t - BAR_W / 2))
      .attr("y", d => y(d[1])).attr("height", d => Math.max(0, y(d[0]) - y(d[1])))
      .attr("fill", barFill[j]).attr("stroke", barStroke[j]).attr("stroke-width", j >= 3 ? 1.1 : 0.4);
  });
}
function barLegend(bx, by, bw, bh, sx, tx, ys) {
  const g = svg.append("g");
  g.append("rect").attr("x", bx).attr("y", by).attr("width", bw).attr("height", bh).attr("fill", "#fff").attr("stroke", "#000").attr("stroke-width", 1.1);
  barKeys.forEach((k, j) => {
    g.append("rect").attr("x", sx).attr("y", ys[j] - 9).attr("width", 29).attr("height", 18)
      .attr("fill", barFill[j]).attr("stroke", j === 2 ? "#ff0000" : (j === 3 ? "#333" : barStroke[j])).attr("stroke-width", 1);
    g.append("text").attr("x", tx).attr("y", ys[j] + 7).attr("font-size", FS).text(k);
  });
}

// ---------- (b) ----------
const xB = d3.scaleLinear().domain([30, 83.7]).range([653, 1100]);
const yB = d3.scaleLinear().domain([0, 66]).range([266, 16]);
barPanel(xB, yB, bBarTimes, [bDNS, bSynack, bNetRTT, bServiceOffset, bDataTransfer], "clipB");
boxAxes(xB, yB, { xv: bTickValues, xl: bTickLabels, yv: [0, 10, 20, 30, 40, 50, 60], yfmt: d3.format("d"),
  ylabel: "Full Load (sec)", ylx: 616, yly: 142 });
barLegend(663, 24, 166, 128, 669, 702, [38, 62, 87, 113, 138]);
caption(854, 336, [["(b)  Weighted Breakdown (", false], ["bad", true], [" sessions)", false]]);

// ---------- (c) ----------
const xC = d3.scaleLinear().domain([0, 51]).range([68, 517]);
const yC = d3.scaleLinear().domain([0, 20]).range([630, 381]);
barPanel(xC, yC, cBarTimes, [cDNS, cSynack, cNetRTT, cServiceOffset, cDataTransfer], "clipC");
boxAxes(xC, yC, { xv: cTickValues, xl: cTickLabels, yv: [0, 5, 10, 15, 20], yfmt: d3.format("d"),
  ylabel: "Full Load (sec)", ylx: 34, yly: 506 });
barLegend(79, 388, 167, 128, 84, 117, [402, 427, 452, 477, 503]);
caption(295, 697, [["(c)  Weighted Breakdown (", false], ["good", true], [" sessions)", false]]);

// ---------- (d) ----------
const xD = d3.scaleLinear().domain([0, 9]).range([653, 1100]);
const yD = d3.scaleLinear().domain([0, 250]).range([630, 380]);
svg.append("g").selectAll("path").data(flat(dAckZero)).join("path").attr("d", TRI_PATH)
  .attr("transform", d => `translate(${xD(d[0])},${yD(d[1])})`).attr("fill", "none").attr("stroke", "#0000ff").attr("stroke-width", 1.4);
svg.append("g").selectAll("circle").data(flat(dAckPayload)).join("circle")
  .attr("cx", d => xD(d[0])).attr("cy", d => yD(d[1])).attr("r", 5).attr("fill", "none").attr("stroke", "#ff0000").attr("stroke-width", 1.4);
svg.append("g").selectAll("circle").data(flat(dSynack)).join("circle")
  .attr("cx", d => xD(d[0])).attr("cy", d => yD(d[1])).attr("r", 1.6).attr("fill", "#11e011");
boxAxes(xD, yD, { xv: hourTicks, xl: hourTickLabels, yv: [0, 50, 100, 150, 200, 250], yfmt: d3.format("d"),
  ylabel: "Millisecond", ylx: 610, yly: 506 });
{
  const g = svg.append("g");
  g.append("rect").attr("x", 817).attr("y", 385).attr("width", 283).attr("height", 74).attr("fill", "#fff").attr("stroke", "#000").attr("stroke-width", 1.1);
  g.append("path").attr("d", TRI_PATH).attr("transform", "translate(839,400)").attr("fill", "none").attr("stroke", "#0000ff").attr("stroke-width", 1.4);
  g.append("circle").attr("cx", 839).attr("cy", 422).attr("r", 5).attr("fill", "none").attr("stroke", "#ff0000").attr("stroke-width", 1.4);
  g.append("circle").attr("cx", 839).attr("cy", 446).attr("r", 1.6).attr("fill", "#11e011");
  g.append("text").attr("x", 856).attr("y", 407).attr("font-size", FS).text("Net.RTT of ACK Payload=0");
  g.append("text").attr("x", 856).attr("y", 429).attr("font-size", FS).text("Net.RTT of ACK Payload>0");
  g.append("text").attr("x", 856).attr("y", 453).attr("font-size", FS).text("SYNACK RTT");
}
caption(869, 697, [["(d)  All RTTs", false]]);

// ---------- (e) ----------
const xE = d3.scaleLinear().domain([0, 9]).range([361, 809]);
const yE = d3.scaleLog().domain([1e-4, 1e2]).range([995, 745]);
svg.append("g").selectAll("circle").data(flat(eServiceOffset).concat(flat(eServiceOffset2))).join("circle")
  .attr("cx", d => xE(d[0])).attr("cy", d => yE(d[1])).attr("r", 1.7).attr("fill", "#c000c0");
boxAxes(xE, yE, { xv: hourTicks, xl: hourTickLabels, yv: [1e-4, 1e-2, 1, 100], exps: [-4, -2, 0, 2],
  ylabel: "Second (log)", ylx: 311, yly: 870 });
{
  const g = svg.append("g");
  g.append("rect").attr("x", 639).attr("y", 750).attr("width", 166).attr("height", 27).attr("fill", "#fff").attr("stroke", "#000").attr("stroke-width", 1.1);
  g.append("circle").attr("cx", 660).attr("cy", 763).attr("r", 1.7).attr("fill", "#c000c0");
  g.append("text").attr("x", 678).attr("y", 770).attr("font-size", FS).text("Service Offset");
}
caption(555, 1062, [["(e)  Service Offset", false]]);
</script>
</body></html>
